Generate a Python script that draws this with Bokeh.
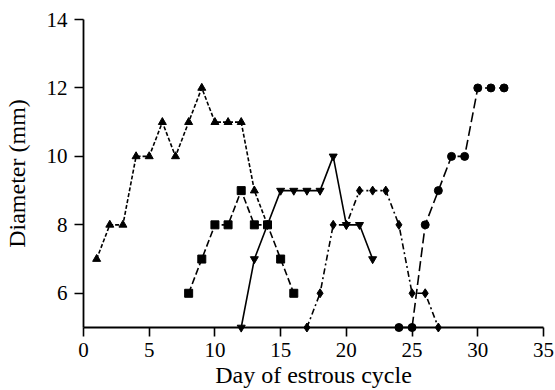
from bokeh.plotting import figure
from bokeh.models import FixedTicker
from bokeh.embed import file_html
from bokeh.resources import INLINE

# Data (day of estrous cycle, diameter in mm)
up_days = [1, 2, 3, 4, 5, 6, 7, 8, 9, 10, 11, 12, 13, 14]
up_vals = [7, 8, 8, 10, 10, 11, 10, 11, 12, 11, 11, 11, 9, 8]

sq_days = [8, 9, 10, 11, 12, 13, 14, 15, 16]
sq_vals = [6, 7, 8, 8, 9, 8, 8, 7, 6]

down_days = [12, 13, 14, 15, 16, 17, 18, 19, 20, 21, 22]
down_vals = [5, 7, 8, 9, 9, 9, 9, 10, 8, 8, 7]

dia_days = [17, 18, 19, 20, 21, 22, 23, 24, 25, 26, 27]
dia_vals = [5, 6, 8, 8, 9, 9, 9, 8, 6, 6, 5]

circ_days = [24, 25, 26, 27, 28, 29, 30, 31, 32]
circ_vals = [5, 5, 8, 9, 10, 10, 12, 12, 12]

x_ticks = [0, 5, 10, 15, 20, 25, 30, 35]
y_ticks = [6, 8, 10, 12, 14]

FONT = "Liberation Serif"
Y_MIN, Y_MAX = 5, 14

p = figure(width=555, height=390, output_backend="svg", toolbar_location=None,
           x_range=(0, 35), y_range=(Y_MIN, Y_MAX),
           min_border_left=83, min_border_right=12, min_border_top=19, min_border_bottom=0)

p.outline_line_color = None
p.grid.visible = False
p.background_fill_color = "white"
p.border_fill_color = "white"

for ax in (p.xaxis[0], p.yaxis[0]):
    ax.axis_line_width = 1.8
    ax.axis_line_color = "black"
    ax.major_tick_line_width = 1.6
    ax.major_tick_in = 0
    ax.major_tick_out = 9
    ax.minor_tick_in = 0
    ax.minor_tick_out = 0
    ax.major_label_text_font = FONT
    ax.major_label_text_font_size = "21px"
    ax.major_label_text_color = "black"
    ax.axis_label_text_font = FONT
    ax.axis_label_text_font_size = "24px"
    ax.axis_label_text_font_style = "normal"
    ax.axis_label_text_color = "black"

p.xaxis.ticker = FixedTicker(ticks=x_ticks)
p.yaxis.ticker = FixedTicker(ticks=y_ticks)
p.yaxis.bounds = (Y_MIN, Y_MAX)
p.xaxis.axis_label = "Day of estrous cycle"
p.yaxis.axis_label = "Diameter (mm)"
p.xaxis.major_label_standoff = 6
p.xaxis.axis_label_standoff = 2
p.yaxis.major_label_standoff = 7
p.yaxis.axis_label_standoff = 14

LW = 1.6

def series(xs, ys, dash, marker, size):
    r1 = p.line(xs, ys, line_color="black", line_width=LW, line_dash=dash)
    r2 = p.scatter(xs, ys, marker=marker, size=size, fill_color="black", line_color="black")
    r1.level = "overlay"
    r2.level = "overlay"

series(up_days, up_vals, "4 2", "triangle", 8)
series(sq_days, sq_vals, "7 3", "square", 8)
series(down_days, down_vals, "solid", "inverted_triangle", 8)
series(dia_days, dia_vals, "6 3 2 3", "diamond", 9)
series(circ_days, circ_vals, "10 4", "circle", 8)

open("out.html", "w").write(file_html(p, INLINE))
